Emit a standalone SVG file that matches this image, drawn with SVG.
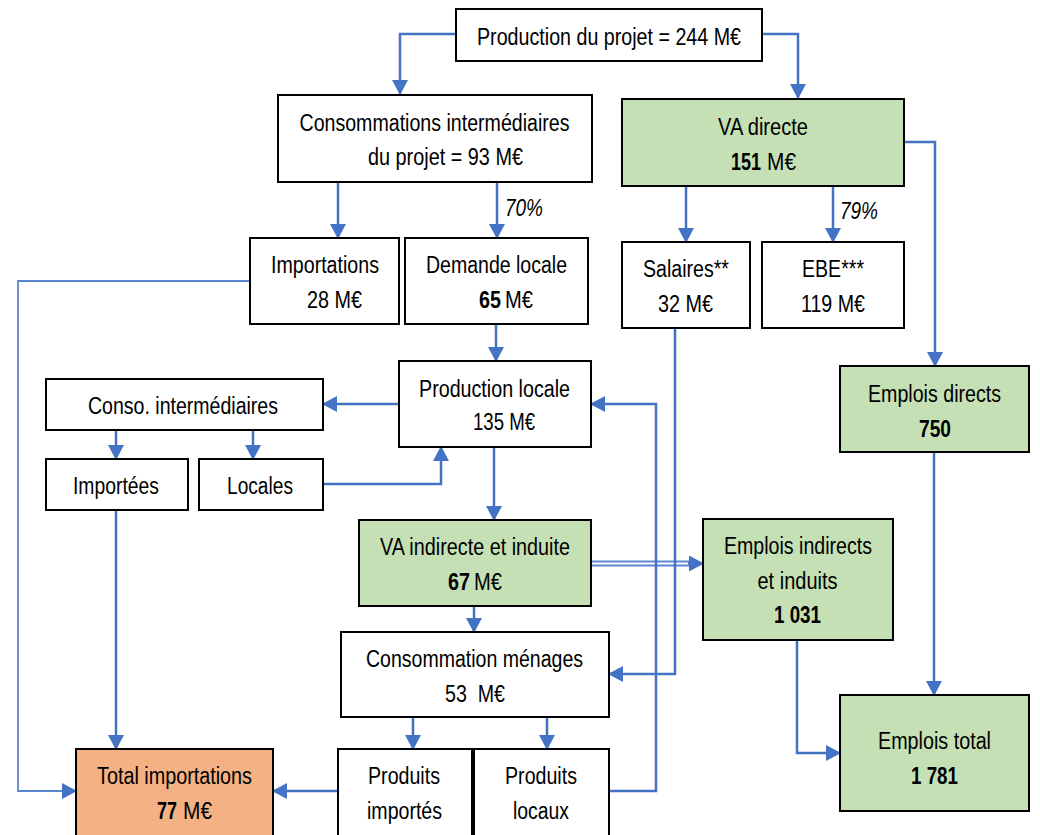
<svg xmlns="http://www.w3.org/2000/svg" width="1040" height="835" viewBox="0 0 1040 835">
<style>
.b{fill:#fff;stroke:#000;stroke-width:2}
.g{fill:#C5E0B4;stroke:#000;stroke-width:2}
.o{fill:#F4B183;stroke:#000;stroke-width:2}
text{font-family:"Liberation Sans Narrow","Arial Narrow","Liberation Sans",sans-serif;font-size:23px;fill:#000;text-anchor:middle}
.bd{font-weight:bold}
.s{text-anchor:start}
.it{font-style:italic;text-anchor:start}
.c{fill:none;stroke:#4472C4;stroke-width:2.5}
.t{fill:none;stroke:#5B86D0;stroke-width:1.8}
</style>
<defs>
<marker id="a" markerUnits="userSpaceOnUse" markerWidth="16" markerHeight="16" refX="14" refY="8" orient="auto">
<path d="M0,0 L15,8 L0,16 Z" fill="#4472C4"/>
</marker>
</defs>
<g id="connectors">
<path class="c" d="M456,34 H400 V94" marker-end="url(#a)"/>
<path class="c" d="M762,34 H798 V98" marker-end="url(#a)"/>
<path class="c" d="M338,183 V238" marker-end="url(#a)"/>
<path class="c" d="M497,183 V238" marker-end="url(#a)"/>
<path class="c" d="M686,186 V242" marker-end="url(#a)"/>
<path class="c" d="M833,186 V242" marker-end="url(#a)"/>
<path class="c" d="M904,142 H935 V366" marker-end="url(#a)"/>
<path class="t" d="M250,281 H18 V791 H76" marker-end="url(#a)"/>
<path class="c" d="M496,324 V361" marker-end="url(#a)"/>
<path class="c" d="M399,404 H323" marker-end="url(#a)"/>
<path class="c" d="M116,430 V459" marker-end="url(#a)"/>
<path class="c" d="M253,430 V459" marker-end="url(#a)"/>
<path class="c" d="M323,484 H441 V447" marker-end="url(#a)"/>
<path class="c" d="M494,447 V520" marker-end="url(#a)"/>
<path class="c" d="M116,510 V749" marker-end="url(#a)"/>
<path class="t" d="M591,561.5 H690 M591,565.5 H690"/>
<path class="c" d="M688,563.5 H703" marker-end="url(#a)"/>
<path class="c" d="M474,606 V632" marker-end="url(#a)"/>
<path class="c" d="M675,328 V674 H609" marker-end="url(#a)"/>
<path class="c" d="M609,791 H656 V404 H591" marker-end="url(#a)"/>
<path class="c" d="M413,717 V749" marker-end="url(#a)"/>
<path class="c" d="M547,717 V749" marker-end="url(#a)"/>
<path class="c" d="M338,791 H273" marker-end="url(#a)"/>
<path class="c" d="M934,452 V695" marker-end="url(#a)"/>
<path class="c" d="M797,640 V753 H840" marker-end="url(#a)"/>
<text class="it" x="505" y="216" textLength="38" lengthAdjust="spacingAndGlyphs">70%</text>
<text class="it" x="840" y="219" textLength="38" lengthAdjust="spacingAndGlyphs">79%</text>
</g>
<g id="production-projet"><rect class="b" x="456" y="9" width="306" height="52"/><text x="609" y="45" textLength="264" lengthAdjust="spacingAndGlyphs">Production du projet = 244 M€</text></g>
<g id="ci-projet"><rect class="b" x="278" y="95" width="314" height="87"/><text x="434.5" y="131" textLength="270" lengthAdjust="spacingAndGlyphs">Consommations intermédiaires</text><text x="445.5" y="165" textLength="155" lengthAdjust="spacingAndGlyphs">du projet = 93 M€</text></g>
<g id="va-directe"><rect class="g" x="622" y="99" width="282" height="87"/><text x="763" y="135" textLength="90" lengthAdjust="spacingAndGlyphs">VA directe</text><text class="bd s" x="731" y="170" textLength="30" lengthAdjust="spacingAndGlyphs">151</text><text class="s" x="767" y="170" textLength="29" lengthAdjust="spacingAndGlyphs">M€</text></g>
<g id="importations"><rect class="b" x="250" y="238" width="149" height="86"/><text x="325" y="273" textLength="108" lengthAdjust="spacingAndGlyphs">Importations</text><text x="334.5" y="308" textLength="55" lengthAdjust="spacingAndGlyphs">28 M€</text></g>
<g id="demande-locale"><rect class="b" x="405" y="238" width="183" height="86"/><text x="496.5" y="273" textLength="141" lengthAdjust="spacingAndGlyphs">Demande locale</text><text class="bd s" x="479" y="308" textLength="22" lengthAdjust="spacingAndGlyphs">65</text><text class="s" x="505" y="308" textLength="28" lengthAdjust="spacingAndGlyphs">M€</text></g>
<g id="salaires"><rect class="b" x="622" y="242" width="128" height="86"/><text x="686" y="277" textLength="86" lengthAdjust="spacingAndGlyphs">Salaires**</text><text x="685.5" y="312" textLength="55" lengthAdjust="spacingAndGlyphs">32 M€</text></g>
<g id="ebe"><rect class="b" x="762" y="242" width="142" height="86"/><text x="833" y="277" textLength="62" lengthAdjust="spacingAndGlyphs">EBE***</text><text x="833" y="312" textLength="64" lengthAdjust="spacingAndGlyphs">119 M€</text></g>
<g id="production-locale"><rect class="b" x="399" y="361" width="192" height="86"/><text x="494.5" y="397" textLength="151" lengthAdjust="spacingAndGlyphs">Production locale</text><text x="504" y="430" textLength="62" lengthAdjust="spacingAndGlyphs">135 M€</text></g>
<g id="conso-intermediaires"><rect class="b" x="46" y="379" width="277" height="51"/><text x="183" y="414" textLength="190" lengthAdjust="spacingAndGlyphs">Conso. intermédiaires</text></g>
<g id="importees"><rect class="b" x="46" y="459" width="142" height="51"/><text x="116" y="494" textLength="86" lengthAdjust="spacingAndGlyphs">Importées</text></g>
<g id="locales"><rect class="b" x="199" y="459" width="124" height="51"/><text x="260" y="494" textLength="66" lengthAdjust="spacingAndGlyphs">Locales</text></g>
<g id="emplois-directs"><rect class="g" x="840" y="366" width="189" height="86"/><text x="934.5" y="402" textLength="133" lengthAdjust="spacingAndGlyphs">Emplois directs</text><text class="bd" x="935" y="437" textLength="32" lengthAdjust="spacingAndGlyphs">750</text></g>
<g id="va-indirecte"><rect class="g" x="359" y="520" width="232" height="86"/><text x="475" y="555" textLength="190" lengthAdjust="spacingAndGlyphs">VA indirecte et induite</text><text class="bd s" x="448" y="590" textLength="22" lengthAdjust="spacingAndGlyphs">67</text><text class="s" x="474" y="590" textLength="28" lengthAdjust="spacingAndGlyphs">M€</text></g>
<g id="emplois-indirects"><rect class="g" x="703" y="519" width="190" height="121"/><text x="798" y="554" textLength="148" lengthAdjust="spacingAndGlyphs">Emplois indirects</text><text x="797.5" y="589" textLength="80" lengthAdjust="spacingAndGlyphs">et induits</text><text class="bd" x="797.5" y="623" textLength="47" lengthAdjust="spacingAndGlyphs">1 031</text></g>
<g id="consommation-menages"><rect class="b" x="341" y="632" width="268" height="85"/><text x="474.5" y="667" textLength="217" lengthAdjust="spacingAndGlyphs">Consommation ménages</text><text x="475" y="702" textLength="60" lengthAdjust="spacingAndGlyphs" xml:space="preserve">53  M€</text></g>
<g id="emplois-total"><rect class="g" x="840" y="695" width="189" height="116"/><text x="934.5" y="749" textLength="113" lengthAdjust="spacingAndGlyphs">Emplois total</text><text class="bd" x="934.5" y="784" textLength="47" lengthAdjust="spacingAndGlyphs">1 781</text></g>
<g id="total-importations"><rect class="o" x="76" y="749" width="197" height="90"/><text x="174.5" y="784" textLength="155" lengthAdjust="spacingAndGlyphs">Total importations</text><text class="bd s" x="157" y="819" textLength="20" lengthAdjust="spacingAndGlyphs">77</text><text class="s" x="183" y="819" textLength="29" lengthAdjust="spacingAndGlyphs">M€</text></g>
<g id="produits-importes"><rect class="b" x="338" y="749" width="134" height="90"/><text x="404" y="784" textLength="72" lengthAdjust="spacingAndGlyphs">Produits</text><text x="404.5" y="819" textLength="75" lengthAdjust="spacingAndGlyphs">importés</text></g>
<g id="produits-locaux"><rect class="b" x="474" y="749" width="135" height="90"/><text x="541" y="784" textLength="72" lengthAdjust="spacingAndGlyphs">Produits</text><text x="541" y="819" textLength="56" lengthAdjust="spacingAndGlyphs">locaux</text></g>
</svg>
